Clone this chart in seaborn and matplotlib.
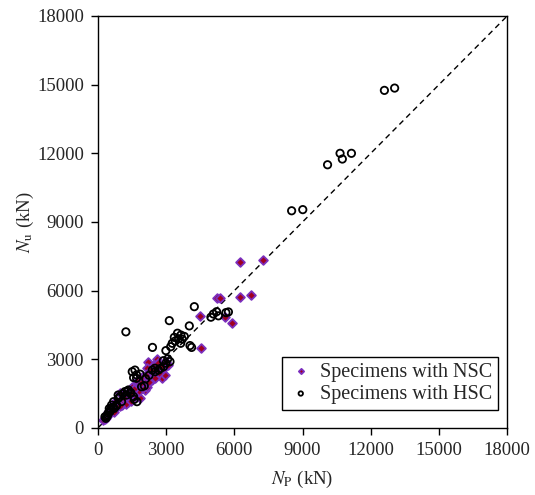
import pandas as pd
import matplotlib
matplotlib.use('Agg')
import matplotlib.pyplot as plt
import seaborn as sns

# dados (Np, Nu) em kN
nsc_np = [6250, 7250, 5250, 5370, 6250, 6730, 5590, 5880, 4500, 4530,
          2210, 2580, 2140, 2290, 2800, 2950, 2580, 2000, 1780, 2070,
          1480, 1630, 1850, 1550, 1340, 970, 750, 600, 450, 310,
          240, 1040, 1920, 2360, 2140, 2450, 2650, 2350, 1700, 1400,
          1200, 1100, 900, 800, 700, 550, 500, 400, 350, 300,
          1250, 1450, 1650, 1800, 2000, 2250, 2500, 2700, 2900, 3100,
          1300, 1000, 850, 650, 450, 3000, 2800, 1900, 1600, 1150,
          950, 700, 1500, 2100]
nsc_nu = [7250, 7350, 5670, 5670, 5740, 5800, 4860, 4570, 4880, 3480,
          2900, 3000, 2610, 2460, 2170, 2320, 2320, 2100, 1950, 1660,
          1800, 1660, 1300, 1300, 1150, 1520, 1150, 930, 710, 420,
          350, 1000, 2240, 2100, 1800, 2750, 2850, 2550, 2050, 1600,
          1400, 1250, 1100, 980, 850, 700, 600, 520, 450, 380,
          1050, 1200, 1450, 1600, 1750, 2000, 2200, 2400, 2600, 2750,
          1500, 1200, 1000, 800, 550, 2900, 2700, 1950, 1700, 1300,
          950, 700, 1550, 2300]

hsc_np = [12600, 13050, 8520, 9010, 10100, 10650, 10750, 11150,
          1230, 4240, 3140, 4020, 2400,
          3500, 3650, 3360, 3710, 3270, 3640, 3200, 2990, 4050, 4120,
          4970, 5080, 5220, 5630, 5740, 5300,
          3070, 2880, 3170, 2990, 2510, 2390, 2660, 1630, 1510, 1700,
          1700, 2040, 1920, 1340, 1190, 1450, 1260, 1040, 890, 820,
          720, 530, 430, 310,
          1570, 1860, 2520, 2890, 2750, 1420, 1300, 1570, 1716, 1600,
          980, 900, 690, 600, 500, 450, 400, 350, 550, 650,
          3400, 3550, 3800, 2250, 2100, 1100, 800]
hsc_nu = [14750, 14850, 9490, 9540, 11500, 12000, 11750, 12000,
          4200, 5300, 4690, 4460, 3520,
          4140, 4060, 3960, 3880, 3700, 3700, 3550, 3380, 3600, 3520,
          4840, 4980, 5080, 5040, 5070, 4900,
          3020, 2940, 2900, 2830, 2610, 2530, 2530, 2530, 2460, 2320,
          2170, 1840, 1800, 1660, 1590, 1540, 1440, 1150, 1440, 1000,
          860, 710, 570, 490,
          2200, 2350, 2460, 2680, 2600, 1520, 1600, 1370, 1150, 1250,
          1380, 1300, 1150, 1000, 850, 650, 500, 420, 800, 900,
          3800, 3900, 4000, 2300, 2150, 1500, 950]

df_nsc = pd.DataFrame({'Np': nsc_np, 'Nu': nsc_nu})
df_hsc = pd.DataFrame({'Np': hsc_np, 'Nu': hsc_nu})

sns.set_style('white')
plt.rcParams['font.family'] = ['Liberation Serif', 'DejaVu Serif']
plt.rcParams['mathtext.fontset'] = 'stix'

fig = plt.figure(figsize=(5.35, 4.95), dpi=100)
ax = fig.add_axes([0.183, 0.1354, 0.765, 0.8323])

# linha 1:1
ax.plot([0, 18000], [0, 18000], color='black', linestyle=(0, (4, 3)), linewidth=1, zorder=1)

sns.scatterplot(x='Np', y='Nu', data=df_nsc, ax=ax, marker='D', s=20,
                color='#A00020', edgecolor='#7B2FBE', linewidth=1.3,
                label='Specimens with NSC', zorder=2)
sns.scatterplot(x='Np', y='Nu', data=df_hsc, ax=ax, marker='o', s=28,
                facecolor='none', edgecolor='black', linewidth=1.3,
                label='Specimens with HSC', zorder=3)

ax.set_xlim(0, 18000)
ax.set_ylim(0, 18000)
ticks = [0, 3000, 6000, 9000, 12000, 15000, 18000]
ax.set_xticks(ticks)
ax.set_yticks(ticks)
ax.tick_params(axis='both', which='both', direction='out', length=5, width=1,
               color='black', labelsize=13.5, bottom=True, left=True, pad=5)
for sp in ax.spines.values():
    sp.set_color('black')
    sp.set_linewidth(1)

ax.set_xlabel(r'$N_\mathrm{P}$ (kN)', fontsize=13.5, labelpad=7)
ax.set_ylabel(r'$N_\mathrm{u}$ (kN)', fontsize=13.5, labelpad=1)

leg = ax.legend(loc='lower right', fontsize=14.5, frameon=True, fancybox=False,
                edgecolor='black', framealpha=1, borderpad=0.3, handletextpad=0.3,
                handlelength=1.3, labelspacing=0.15, markerscale=0.6,
                borderaxespad=0, bbox_to_anchor=(0.978, 0.044))
leg.get_frame().set_linewidth(1)

fig.savefig('out.png', dpi=100)
